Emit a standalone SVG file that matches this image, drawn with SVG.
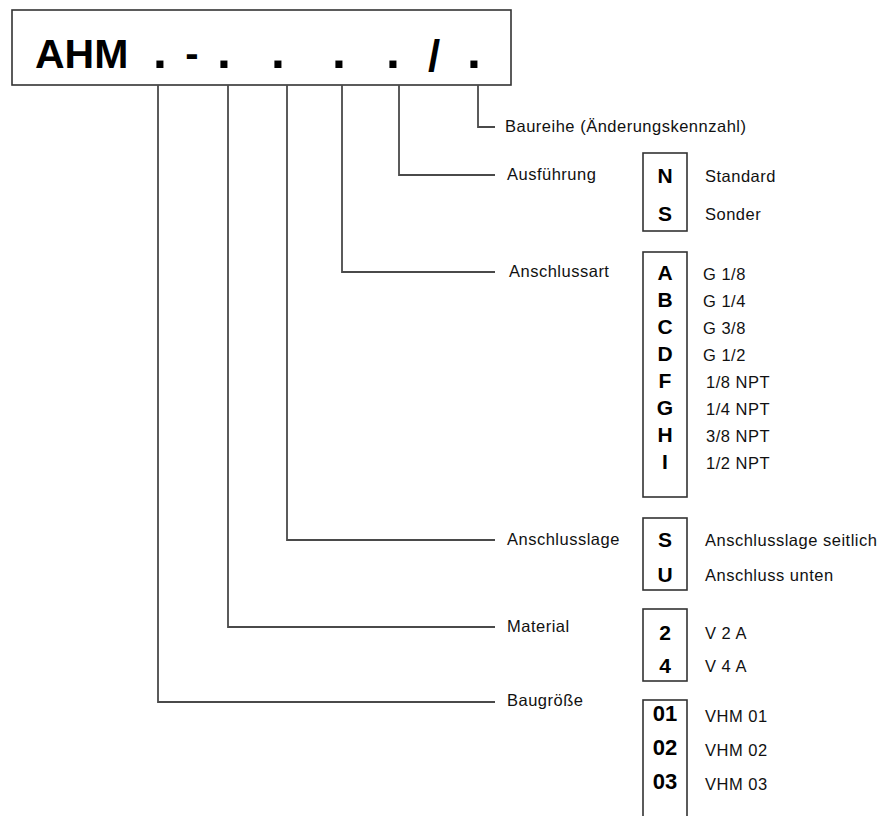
<svg xmlns="http://www.w3.org/2000/svg" width="886" height="816" viewBox="0 0 886 816">
<style>
.code{font-family:"Liberation Sans",Arial,sans-serif;font-weight:bold;font-size:50px;fill:#000;text-anchor:middle}
.lbl{font-family:"Liberation Sans",Arial,sans-serif;font-size:16.5px;fill:#111;letter-spacing:0.5px}
.key{font-family:"Liberation Sans",Arial,sans-serif;font-weight:bold;font-size:21px;fill:#000;text-anchor:middle}
.key2{font-family:"Liberation Sans",Arial,sans-serif;font-weight:bold;font-size:22px;fill:#000;text-anchor:middle}
.box{fill:none;stroke:#333;stroke-width:1.6}
.ln{fill:none;stroke:#4a4a4a;stroke-width:1.8}
</style>
<rect width="886" height="816" fill="#fff"/>
<g id="header">
<rect class="box" x="12" y="10" width="499" height="75"/>
<text x="35" y="68" style="font-family:'Liberation Sans',Arial,sans-serif;font-weight:bold;font-size:41px">AHM</text>
<text class="code" x="160" y="68">.</text>
<text class="code" x="192" y="67" style="font-size:40px">-</text>
<text class="code" x="224" y="68">.</text>
<text class="code" x="278" y="68">.</text>
<text class="code" x="339" y="68">.</text>
<text class="code" x="393" y="68">.</text>
<text class="code" x="434" y="71" style="font-size:44px">/</text>
<text class="code" x="474" y="68">.</text>
</g>
<g id="connectors">
<polyline class="ln" points="478,85 478,127 495,127"/>
<polyline class="ln" points="399,85 399,175 495,175"/>
<polyline class="ln" points="342,85 342,272 495,272"/>
<polyline class="ln" points="287,85 287,540 495,540"/>
<polyline class="ln" points="228,85 228,627 495,627"/>
<polyline class="ln" points="158,85 158,702 495,702"/>
</g>
<g id="baureihe">
<text class="lbl" x="505" y="132">Baureihe (Änderungskennzahl)</text>
</g>
<g id="ausfuehrung">
<text class="lbl" x="507" y="180">Ausführung</text>
<rect class="box" x="643" y="153" width="44" height="78"/>
<text class="key" x="665" y="183">N</text>
<text class="key" x="665" y="221">S</text>
<text class="lbl" x="705" y="182">Standard</text>
<text class="lbl" x="705" y="220">Sonder</text>
</g>
<g id="anschlussart">
<text class="lbl" x="509" y="277">Anschlussart</text>
<rect class="box" x="643" y="252" width="44" height="245"/>
<text class="key" x="665" y="280">A</text>
<text class="key" x="665" y="307">B</text>
<text class="key" x="665" y="334">C</text>
<text class="key" x="665" y="361">D</text>
<text class="key" x="665" y="388">F</text>
<text class="key" x="665" y="415">G</text>
<text class="key" x="665" y="442">H</text>
<text class="key" x="665" y="469">I</text>
<text class="lbl" x="703" y="280">G 1/8</text>
<text class="lbl" x="703" y="307">G 1/4</text>
<text class="lbl" x="703" y="334">G 3/8</text>
<text class="lbl" x="703" y="361">G 1/2</text>
<text class="lbl" x="706" y="388">1/8 NPT</text>
<text class="lbl" x="706" y="415">1/4 NPT</text>
<text class="lbl" x="706" y="442">3/8 NPT</text>
<text class="lbl" x="706" y="469">1/2 NPT</text>
</g>
<g id="anschlusslage">
<text class="lbl" x="507" y="545">Anschlusslage</text>
<rect class="box" x="643" y="518" width="44" height="72"/>
<text class="key" x="665" y="547">S</text>
<text class="key" x="665" y="582">U</text>
<text class="lbl" x="705" y="546">Anschlusslage seitlich</text>
<text class="lbl" x="705" y="581">Anschluss unten</text>
</g>
<g id="material">
<text class="lbl" x="507" y="632">Material</text>
<rect class="box" x="643" y="609" width="44" height="72"/>
<text class="key" x="665" y="640">2</text>
<text class="key" x="665" y="673">4</text>
<text class="lbl" x="705" y="639">V 2 A</text>
<text class="lbl" x="705" y="672">V 4 A</text>
</g>
<g id="baugroesse">
<text class="lbl" x="507" y="706">Baugröße</text>
<rect class="box" x="643" y="700" width="44" height="130"/>
<text class="key2" x="665" y="721">01</text>
<text class="key2" x="665" y="755">02</text>
<text class="key2" x="665" y="789">03</text>
<text class="lbl" x="705" y="722">VHM 01</text>
<text class="lbl" x="705" y="756">VHM 02</text>
<text class="lbl" x="705" y="790">VHM 03</text>
</g>
</svg>
